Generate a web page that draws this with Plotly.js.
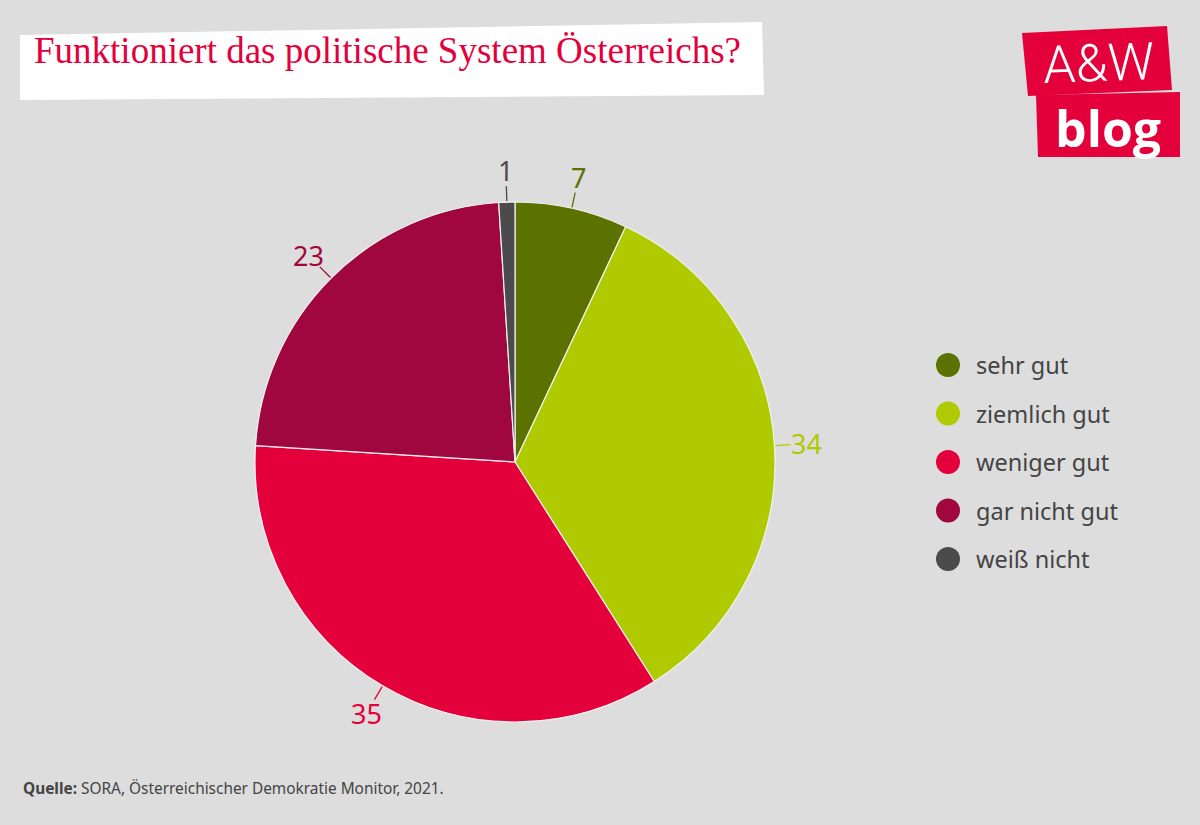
<!DOCTYPE html>
<html><head><meta charset="utf-8">
<script src="https://cdn.plot.ly/plotly-3.0.1.min.js"></script>
<style>html,body{margin:0;padding:0;background:#dddddd;}#chart{width:1200px;height:825px;}</style>
</head><body><div id="chart"></div>
<script>
const categories = ['sehr gut', 'ziemlich gut', 'weniger gut', 'gar nicht gut', 'weiß nicht'];
const values = [7, 34, 35, 23, 1];
const colors = ['#5b7200', '#afca00', '#e4003b', '#a0073f', '#4b4b4b'];
const titleText = 'Funktioniert das politische System Österreichs?';
const sourceText = '<b>Quelle:</b> SORA, Österreichischer Demokratie Monitor, 2021.';

const W = 1200, H = 825;
const px = x => x / W;
const py = y => 1 - y / H;

// pie geometry (pixels)
const CX = 515, CY = 462, R = 260;

const shapes = [];
const annotations = [];

// title box (slightly skewed)
shapes.push({type: 'path', xref: 'paper', yref: 'paper', layer: 'below',
  path: `M ${px(20)} ${py(35)} L ${px(762)} ${py(22)} L ${px(764)} ${py(95)} L ${px(20)} ${py(100)} Z`,
  fillcolor: '#ffffff', line: {width: 0}});
annotations.push({text: titleText, xref: 'paper', yref: 'paper', x: px(32), y: py(51),
  xanchor: 'left', yanchor: 'middle', showarrow: false,
  font: {family: 'Liberation Serif', size: 37, color: '#e4003b'}});

// logo
shapes.push({type: 'path', xref: 'paper', yref: 'paper',
  path: `M ${px(1022)} ${py(33)} L ${px(1167)} ${py(26)} L ${px(1172)} ${py(90)} L ${px(1028)} ${py(96)} Z`,
  fillcolor: '#e4003b', line: {width: 0}});
shapes.push({type: 'path', xref: 'paper', yref: 'paper',
  path: `M ${px(1036)} ${py(95)} L ${px(1180)} ${py(92)} L ${px(1180)} ${py(157)} L ${px(1038)} ${py(157)} Z`,
  fillcolor: '#e4003b', line: {width: 0}});
annotations.push({text: 'A&amp;W', xref: 'paper', yref: 'paper', x: px(1098), y: py(63),
  xanchor: 'center', yanchor: 'middle', showarrow: false, textangle: -2,
  font: {family: 'Roboto', size: 52, weight: 300, color: '#ffffff'}});
annotations.push({text: 'blog', xref: 'paper', yref: 'paper', x: px(1108), y: py(128),
  xanchor: 'center', yanchor: 'middle', showarrow: false,
  font: {family: 'Open Sans', size: 50, weight: 700, color: '#ffffff'}});

// value labels with leader lines, computed from the data
const total = values.reduce((a, b) => a + b, 0);
let cum = 0;
values.forEach((v, i) => {
  const mid = (cum + v / 2) / total * 2 * Math.PI;
  cum += v;
  const s = Math.sin(mid), c = Math.cos(mid);
  const x1 = CX + (R + 1) * s, y1 = CY - (R + 1) * c;
  const x2 = CX + (R + 16) * s, y2 = CY - (R + 16) * c;
  const xl = CX + (R + 32) * s, yl = CY - (R + 32) * c;
  shapes.push({type: 'line', xref: 'paper', yref: 'paper',
    x0: px(x1), y0: py(y1), x1: px(x2), y1: py(y2),
    line: {color: colors[i], width: 1.3}});
  annotations.push({text: String(v), xref: 'paper', yref: 'paper', x: px(xl), y: py(yl),
    xanchor: 'center', yanchor: 'middle', showarrow: false,
    font: {family: 'Noto Sans', size: 27, color: colors[i]}});
});

// legend (circles + labels)
categories.forEach((cat, i) => {
  const yc = 365 + i * 48.5;
  shapes.push({type: 'circle', xref: 'paper', yref: 'paper',
    x0: px(936), x1: px(960), y0: py(yc - 12), y1: py(yc + 12),
    fillcolor: colors[i], line: {width: 0}});
  annotations.push({text: cat, xref: 'paper', yref: 'paper', x: px(974), y: py(yc),
    xanchor: 'left', yanchor: 'middle', showarrow: false,
    font: {family: 'Noto Sans', size: 23.5, color: '#444444'}});
});

// source
annotations.push({text: sourceText, xref: 'paper', yref: 'paper', x: px(21), y: py(788),
  xanchor: 'left', yanchor: 'middle', showarrow: false,
  font: {family: 'Noto Sans', size: 15.4, color: '#444444'}});

const trace = {
  type: 'pie',
  labels: categories,
  values: values,
  sort: false,
  direction: 'clockwise',
  rotation: 0,
  marker: {colors: colors, line: {color: '#f2f2f2', width: 1.2}},
  textinfo: 'none',
  hoverinfo: 'label+value',
  showlegend: false,
  domain: {x: [px(CX - R), px(CX + R)], y: [py(CY + R), py(CY - R)]}
};

const layout = {
  width: W, height: H,
  margin: {l: 0, r: 0, t: 0, b: 0},
  paper_bgcolor: '#dddddd',
  plot_bgcolor: '#dddddd',
  showlegend: false,
  shapes: shapes,
  annotations: annotations
};

Plotly.newPlot('chart', [trace], layout, {displayModeBar: false, staticPlot: true});
</script></body></html>
